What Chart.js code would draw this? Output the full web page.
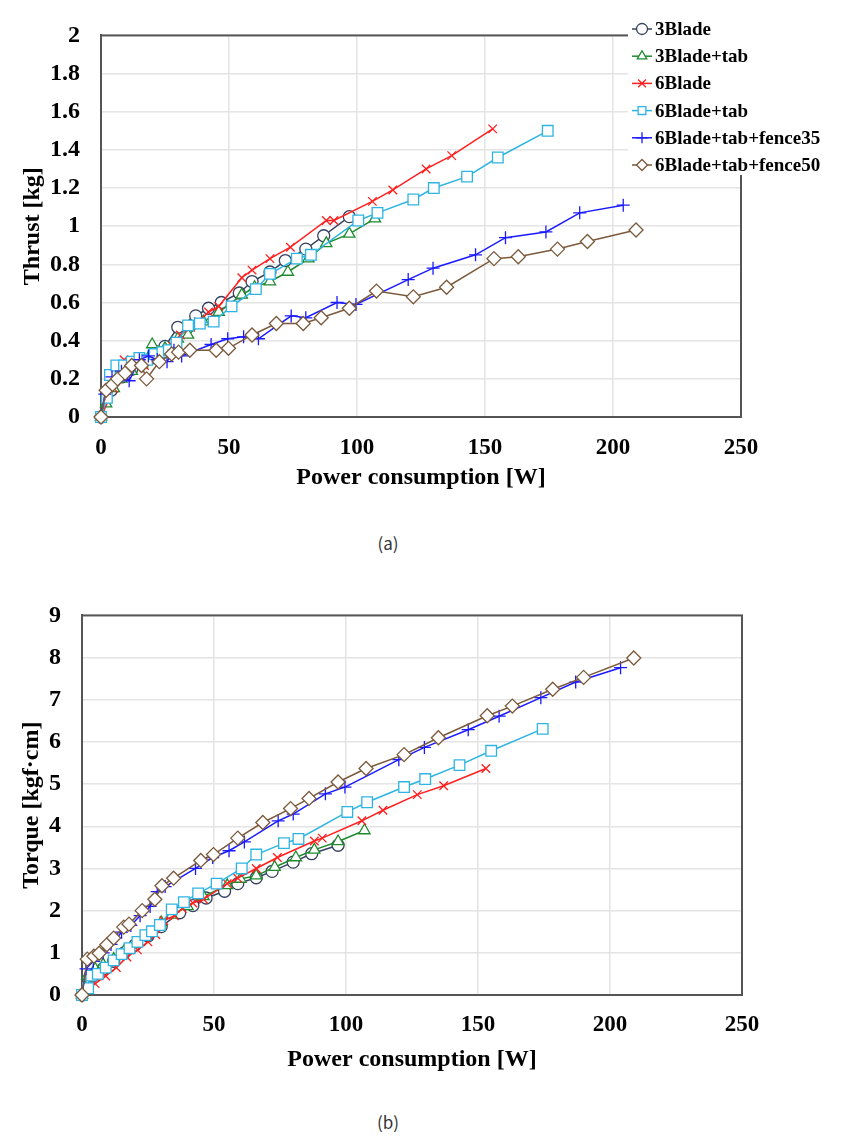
<!DOCTYPE html>
<html>
<head>
<meta charset="utf-8">
<script src="https://cdn.jsdelivr.net/npm/chart.js"></script>
<style>
  html, body { margin: 0; padding: 0; background: #fff; }
  body { width: 847px; height: 1139px; position: relative; overflow: hidden; }
  canvas { position: absolute; left: 0; }
  #thrustChart { top: 0; }
  #torqueChart { top: 580px; }
  .caption {
    position: absolute; left: 338px; width: 100px; text-align: center;
    font: 17px "Noto Sans CJK KR", "DejaVu Sans", sans-serif; color: #333; line-height: 20px;
  }
</style>
</head>
<body>
<canvas id="thrustChart" width="847" height="500"></canvas>
<canvas id="torqueChart" width="847" height="500"></canvas>
<div class="caption" style="top:533px">(a)</div>
<div class="caption" style="top:1112px">(b)</div>
<script>
// series labels
const seriesNames = ['3Blade', '3Blade+tab', '6Blade', '6Blade+tab', '6Blade+tab+fence35', '6Blade+tab+fence50'];

// power consumption [W] per series
const power3Blade = [0, 4, 8, 12, 16, 20, 25, 30, 37, 42, 47, 54, 59, 66, 72, 80, 87, 97];
const power3BladeTab = [0, 2, 5, 8, 12, 16, 20, 25, 30, 34, 40, 46, 55, 60, 66, 73, 81, 88, 97, 107];
const power6Blade = [0, 5, 9, 13, 17, 21, 25, 28, 31, 35, 38, 42, 46, 55, 59, 66, 74, 88, 91, 106, 114, 127, 137, 153];
const power6BladeTab = [0, 2.3, 3.5, 6, 9, 12, 15, 18, 21, 24, 26.5, 29.5, 34, 38.6, 44, 51, 60.5, 66, 76.5, 82, 100.5, 108, 122, 130, 143, 155, 174.5];
const powerFence35 = [0, 1.5, 4.3, 8, 11, 15, 18.5, 22, 25.8, 28.5, 31.5, 43, 49.5, 55.7, 61.5, 74.3, 80, 92.2, 99.6, 120, 129.7, 146.3, 158, 173.8, 187, 204];
const powerFence50 = [0, 2, 4.5, 6.5, 9.4, 12, 15.8, 17.8, 22.8, 27.6, 30.3, 34.7, 45, 49.8, 59, 68.5, 79, 86, 97, 107.6, 122, 135, 153.5, 163, 178.3, 190, 209];

// thrust [kg]
const thrust3Blade = [0, 0.14, 0.21, 0.25, 0.28, 0.31, 0.37, 0.47, 0.53, 0.57, 0.6, 0.65, 0.71, 0.76, 0.82, 0.88, 0.95, 1.05];
const thrust3BladeTab = [0, 0.07, 0.15, 0.2, 0.24, 0.28, 0.38, 0.36, 0.41, 0.43, 0.5, 0.55, 0.64, 0.68, 0.71, 0.76, 0.83, 0.91, 0.96, 1.04];
const thrust6Blade = [0, 0.15, 0.3, 0.28, 0.27, 0.3, 0.33, 0.37, 0.43, 0.47, 0.5, 0.55, 0.58, 0.73, 0.77, 0.83, 0.89, 1.03, 1.03, 1.13, 1.19, 1.3, 1.37, 1.51];
const thrust6BladeTab = [0, 0.1, 0.22, 0.27, 0.27, 0.29, 0.31, 0.3, 0.33, 0.34, 0.35, 0.39, 0.48, 0.49, 0.5, 0.58, 0.67, 0.75, 0.83, 0.85, 1.03, 1.07, 1.14, 1.2, 1.26, 1.36, 1.5];
const thrustFence35 = [0, 0.12, 0.21, 0.24, 0.19, 0.3, 0.32, 0.3, 0.29, 0.35, 0.32, 0.38, 0.41, 0.42, 0.41, 0.53, 0.52, 0.6, 0.59, 0.72, 0.78, 0.85, 0.94, 0.97, 1.07, 1.11];
const thrustFence50 = [0, 0.14, 0.17, 0.2, 0.23, 0.27, 0.27, 0.2, 0.29, 0.33, 0.34, 0.35, 0.35, 0.36, 0.43, 0.49, 0.49, 0.52, 0.57, 0.66, 0.63, 0.68, 0.83, 0.84, 0.88, 0.92, 0.98];

// torque [kgf·cm]
const torque3Blade = [0, 0.45, 0.62, 0.8, 1.0, 1.18, 1.4, 1.62, 1.95, 2.12, 2.3, 2.46, 2.64, 2.78, 2.93, 3.15, 3.35, 3.55];
const torque3BladeTab = [0, 0.45, 0.62, 0.72, 0.85, 1.05, 1.2, 1.45, 1.72, 1.9, 2.1, 2.34, 2.6, 2.75, 2.83, 3.03, 3.26, 3.44, 3.64, 3.9];
const torque6Blade = [0, 0.27, 0.45, 0.65, 0.9, 1.07, 1.26, 1.43, 1.76, 1.88, 2.05, 2.18, 2.27, 2.64, 2.77, 3.0, 3.26, 3.65, 3.72, 4.13, 4.38, 4.75, 4.96, 5.37];
const torque6BladeTab = [0, 0.16, 0.46, 0.5, 0.65, 0.82, 0.97, 1.11, 1.26, 1.42, 1.51, 1.66, 2.03, 2.2, 2.41, 2.64, 3.0, 3.33, 3.6, 3.7, 4.34, 4.57, 4.93, 5.12, 5.45, 5.79, 6.31];
const torqueFence35 = [0, 0.62, 0.8, 1.0, 1.2, 1.49, 1.65, 1.88, 2.1, 2.45, 2.57, 3.0, 3.26, 3.42, 3.63, 4.13, 4.29, 4.77, 4.93, 5.58, 5.87, 6.29, 6.61, 7.05, 7.42, 7.76];
const torqueFence50 = [0, 0.85, 0.92, 0.99, 1.19, 1.35, 1.61, 1.68, 2.0, 2.27, 2.59, 2.77, 3.19, 3.33, 3.72, 4.09, 4.42, 4.66, 5.05, 5.37, 5.7, 6.1, 6.62, 6.85, 7.25, 7.53, 7.99];

// ticks
const powerTicks = [0, 50, 100, 150, 200, 250];
const thrustTicks = [0, 0.2, 0.4, 0.6, 0.8, 1, 1.2, 1.4, 1.6, 1.8, 2];
const thrustTickLabels = ['0', '0.2', '0.4', '0.6', '0.8', '1', '1.2', '1.4', '1.6', '1.8', '2'];
const torqueTicks = [0, 1, 2, 3, 4, 5, 6, 7, 8, 9];

const powerSets = [power3Blade, power3BladeTab, power6Blade, power6BladeTab, powerFence35, powerFence50];
const thrustSets = [thrust3Blade, thrust3BladeTab, thrust6Blade, thrust6BladeTab, thrustFence35, thrustFence50];
const torqueSets = [torque3Blade, torque3BladeTab, torque6Blade, torque6BladeTab, torqueFence35, torqueFence50];

const styles = [
  { color: '#34425e', point: 'circle', radius: 6 },
  { color: '#1f8a2e', point: 'triangle', radius: 6.5 },
  { color: '#ff1f1f', point: 'crossRot', radius: 6 },
  { color: '#2eb4e2', point: 'rect', radius: 7.5 },
  { color: '#1a1aff', point: 'cross', radius: 6.5 },
  { color: '#7b5a3c', point: 'rectRot', radius: 7 }
];

function makeDatasets(ySets) {
  return seriesNames.map((name, i) => {
    const xs = powerSets[i], ys = ySets[i];
    const pts = [];
    for (let k = 0; k < Math.min(xs.length, ys.length); k++) pts.push({ x: xs[k], y: ys[k] });
    return {
      label: name,
      data: pts,
      borderColor: styles[i].color,
      backgroundColor: '#fff',
      pointBackgroundColor: '#fff',
      pointBorderColor: styles[i].color,
      pointStyle: styles[i].point,
      pointRadius: styles[i].radius,
      pointBorderWidth: 1.3,
      borderWidth: 1.5,
      tension: 0,
      clip: false,
      order: seriesNames.length - i
    };
  });
}

// frame round the plot area
const plotBox = {
  id: 'plotBox',
  beforeDatasetsDraw(chart) {
    const { ctx, chartArea: a } = chart;
    ctx.save();
    ctx.strokeStyle = '#555';
    ctx.lineWidth = 2;
    ctx.strokeRect(a.left, a.top, a.width, a.height);
    ctx.restore();
  }
};

// legend in a white box overlapping the top right corner of the frame
const boxLegend = {
  id: 'boxLegend',
  afterDraw(chart, args, opts) {
    if (!opts.display) return;
    const ctx = chart.ctx;
    ctx.save();
    ctx.fillStyle = '#fff';
    ctx.fillRect(opts.left, opts.top, opts.width, opts.height);
    ctx.font = 'bold 19px "Liberation Serif", "Times New Roman", serif';
    ctx.textBaseline = 'middle';
    ctx.textAlign = 'left';
    chart.data.datasets.forEach((ds, i) => {
      const y = opts.top + opts.firstRow + i * opts.rowHeight;
      const x = opts.left + opts.markerX;
      ctx.strokeStyle = ds.borderColor;
      ctx.lineWidth = 1.5;
      ctx.beginPath();
      ctx.moveTo(x - 10, y);
      ctx.lineTo(x + 10, y);
      ctx.stroke();
      ctx.fillStyle = '#fff';
      ctx.strokeStyle = ds.pointBorderColor;
      ctx.lineWidth = 1.3;
      Chart.helpers.drawPoint(ctx, { pointStyle: ds.pointStyle, radius: 5.5, borderWidth: 1.3, rotation: 0 }, x, y);
      ctx.fillStyle = '#000';
      ctx.fillText(ds.label, x + 13, y + 1);
    });
    ctx.restore();
  }
};

const serif = '"Liberation Serif", "Times New Roman", serif';

function makeChart(id, ySets, yTicks, yLabels, yMax, yTitle, geo, showLegend) {
  return new Chart(document.getElementById(id), {
    type: 'line',
    data: { datasets: makeDatasets(ySets) },
    plugins: [plotBox, boxLegend],
    options: {
      responsive: false,
      animation: false,
      devicePixelRatio: 1,
      layout: { padding: { top: geo.top, right: geo.right, left: 0, bottom: 0 } },
      plugins: {
        legend: { display: false },
        tooltip: { enabled: false },
        boxLegend: { display: showLegend, left: 628, top: 0, width: 195, height: 175, markerX: 14, firstRow: 29, rowHeight: 27.2 }
      },
      scales: {
        x: {
          type: 'linear',
          min: 0, max: 250,
          afterBuildTicks: s => { s.ticks = powerTicks.map(v => ({ value: v })); },
          afterFit: s => { s.height = geo.xHeight; },
          grid: { color: '#e4e4e4', lineWidth: 1.5, drawTicks: false },
          border: { color: '#555', width: 2 },
          ticks: { color: '#000', padding: geo.xTickPad, maxRotation: 0, font: { family: serif, size: 23, weight: 'bold' } },
          title: { display: true, text: 'Power consumption [W]', color: '#000', padding: { top: 0, bottom: geo.xTitlePad }, font: { family: serif, size: 24, weight: 'bold', lineHeight: 1.2 } }
        },
        y: {
          type: 'linear',
          min: 0, max: yMax,
          afterBuildTicks: s => { s.ticks = yTicks.map(v => ({ value: v })); },
          afterFit: s => { s.width = geo.yWidth; },
          grid: { color: '#e4e4e4', lineWidth: 1.5, drawTicks: false },
          border: { color: '#444', width: 2 },
          ticks: {
            color: '#000', padding: 21,
            font: { family: serif, size: 24, weight: 'bold' },
            callback: (v) => { const k = yTicks.indexOf(v); return k >= 0 ? yLabels[k] : ''; }
          },
          title: { display: true, text: yTitle, color: '#000', padding: { top: geo.yTitlePad, bottom: 0 }, font: { family: serif, size: 24, weight: 'bold', lineHeight: 1.2 } }
        }
      }
    }
  });
}

makeChart('thrustChart', thrustSets, thrustTicks, thrustTickLabels, 2, 'Thrust [kg]',
  { top: 25, right: 106, yWidth: 101, xHeight: 83, xTickPad: 17, xTitlePad: 7.6, yTitlePad: 18.6 }, true);

makeChart('torqueChart', torqueSets, torqueTicks, torqueTicks.map(String), 9, 'Torque [kgf·cm]',
  { top: 23, right: 105, yWidth: 82, xHeight: 85, xTickPad: 16.6, xTitlePad: 5.6, yTitlePad: 17.6 }, false);
</script>
</body>
</html>
